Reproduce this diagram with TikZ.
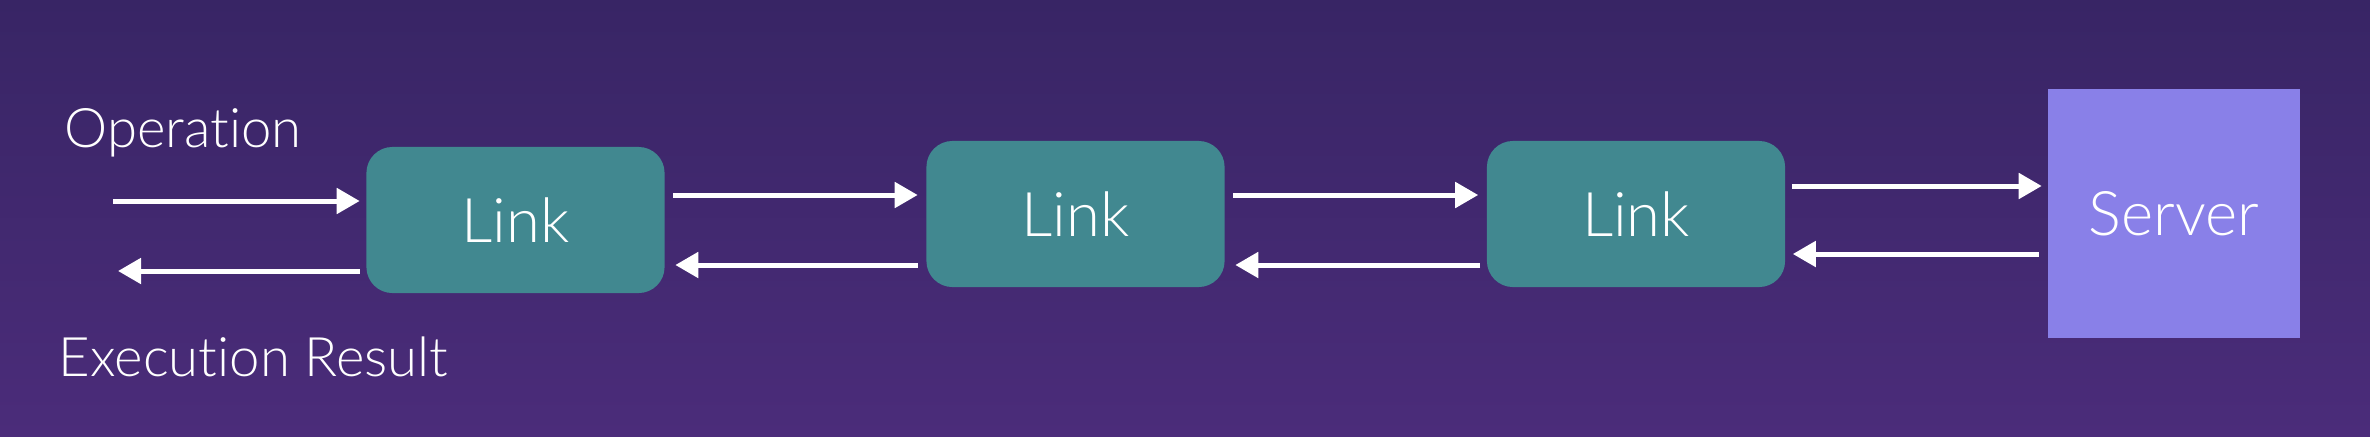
\documentclass[tikz,border=0pt]{standalone}
\usepackage{fontspec}
\setmainfont{Lato}[UprightFont=* Light, Ligatures={NoCommon}]
\usetikzlibrary{positioning,arrows.meta}
\definecolor{bgtop}{RGB}{56,37,101}
\definecolor{bgbot}{RGB}{75,44,122}
\definecolor{linkfill}{RGB}{65,136,144}
\definecolor{serverfill}{RGB}{137,128,232}
\tikzset{
  flowarrow/.style={-{Triangle[length=0.23cm, width=0.25cm]}, draw=white, line width=0.05cm},
  linknode/.style={fill=linkfill, rounded corners=0.26cm, minimum width=2.98cm, minimum height=1.46cm, align=center, text=white, font=\fontsize{17.5}{21}\selectfont},
  servernode/.style={fill=serverfill, minimum width=2.51cm, minimum height=2.49cm, align=center, text=white, font=\fontsize{17.5}{21}\selectfont},
  iolabel/.style={text=white, inner sep=0pt, anchor=base west, font=\fontsize{15.5}{18}\selectfont}
}

\begin{document}
\begin{tikzpicture}[x=0.01cm, y=-0.01cm]
  % background
  \shade[top color=bgtop, bottom color=bgbot] (0,0) rectangle (2370,436);
  \useasboundingbox (0,0) rectangle (2370,436);

  \node[linknode] (l1) at (515.5,220) {Link};
  \node[linknode] (l2) at (1075.5,214) {Link};
  \node[linknode] (l3) at (1636,214) {Link};
  \node[servernode] (srv) at (2174,213.5) {Server};

  \node[iolabel] (op) at (64,147) {Operation};
  \node[iolabel] (res) at (58,376) {Execution Result};

  \coordinate (opin) at (113,201);
  \coordinate (resout) at (118,271);

  \draw[flowarrow] (opin) -- (l1.west |- opin) [shorten >=0.06cm];
  \draw[flowarrow, shorten <=0.06cm] (l1.west |- resout) -- (resout);
  \draw[flowarrow, shorten <=0.08cm, shorten >=0.08cm] (l1.east |- 0,195) -- (l2.west |- 0,195);
  \draw[flowarrow, shorten <=0.08cm, shorten >=0.1cm] (l2.west |- 0,265) -- (l1.east |- 0,265);
  \draw[flowarrow, shorten <=0.08cm, shorten >=0.08cm] (l2.east |- 0,195) -- (l3.west |- 0,195);
  \draw[flowarrow, shorten <=0.06cm, shorten >=0.1cm] (l3.west |- 0,265) -- (l2.east |- 0,265);
  \draw[flowarrow, shorten <=0.06cm, shorten >=0.06cm] (l3.east |- 0,186) -- (srv.west |- 0,186);
  \draw[flowarrow, shorten <=0.09cm, shorten >=0.07cm] (srv.west |- 0,254) -- (l3.east |- 0,254);
\end{tikzpicture}
\end{document}
